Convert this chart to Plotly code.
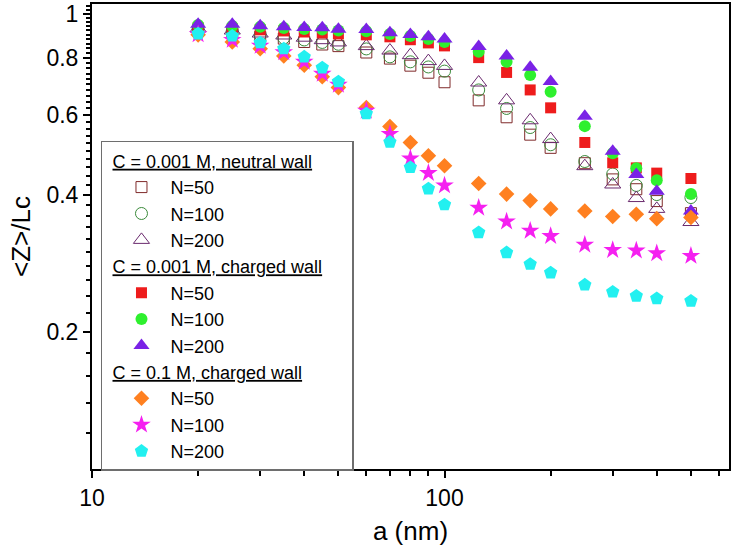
import plotly.graph_objects as go

# ---- data ----
a_nm = [20, 25, 30, 35, 40, 45, 50, 60, 70, 80, 90, 100, 125, 150, 175, 200, 250, 300, 350, 400, 500]

neutral_n50 = [0.923, 0.909, 0.891, 0.883, 0.868, 0.857, 0.850, 0.823, 0.798, 0.770, 0.743, 0.708,
               0.646, 0.593, 0.543, 0.508, 0.470, 0.433, 0.412, 0.388, 0.365]
neutral_n100 = [0.927, 0.918, 0.900, 0.886, 0.877, 0.866, 0.858, 0.838, 0.805, 0.785, 0.765, 0.749,
                0.681, 0.620, 0.563, 0.516, 0.474, 0.445, 0.420, 0.401, 0.395]
neutral_n200 = [0.930, 0.920, 0.906, 0.897, 0.887, 0.876, 0.866, 0.850, 0.831, 0.812, 0.788, 0.769,
                0.707, 0.646, 0.584, 0.531, 0.463, 0.422, 0.394, 0.373, 0.349]

charged_n50 = [0.932, 0.927, 0.923, 0.918, 0.913, 0.909, 0.904, 0.900, 0.891, 0.878, 0.864, 0.851,
               0.802, 0.744, 0.681, 0.622, 0.522, 0.471, 0.459, 0.447, 0.435]
charged_n100 = [0.946, 0.941, 0.937, 0.932, 0.927, 0.925, 0.920, 0.916, 0.904, 0.895, 0.881, 0.868,
                0.826, 0.785, 0.734, 0.675, 0.567, 0.494, 0.458, 0.431, 0.402]
charged_n200 = [0.950, 0.949, 0.942, 0.937, 0.934, 0.933, 0.926, 0.925, 0.910, 0.902, 0.891, 0.881,
                0.848, 0.809, 0.764, 0.711, 0.596, 0.499, 0.444, 0.408, 0.369]

salt_n50 = [0.900, 0.868, 0.839, 0.809, 0.772, 0.728, 0.689, 0.623, 0.566, 0.522, 0.488, 0.464,
            0.424, 0.402, 0.389, 0.373, 0.369, 0.359, 0.363, 0.355, 0.357]
salt_n100 = [0.902, 0.877, 0.851, 0.824, 0.785, 0.739, 0.699, 0.613, 0.545, 0.481, 0.447, 0.420,
             0.375, 0.350, 0.334, 0.325, 0.311, 0.303, 0.302, 0.298, 0.294]
salt_n200 = [0.905, 0.895, 0.865, 0.839, 0.805, 0.762, 0.710, 0.604, 0.523, 0.460, 0.413, 0.381,
             0.331, 0.299, 0.282, 0.270, 0.254, 0.245, 0.240, 0.237, 0.234]

group_titles = ["C = 0.001 M, neutral wall", "C = 0.001 M, charged wall", "C = 0.1 M, charged wall"]
series_names = ["N=50", "N=100", "N=200"]

x_tick_vals = [10, 100]
x_tick_text = ["10", "100"]
x_minor_vals = [20, 30, 40, 50, 60, 70, 80, 90, 200, 300, 400, 500, 600]
y_tick_vals = [0.2, 0.4, 0.6, 0.8, 1.0]
y_tick_text = ["0.2", "0.4", "0.6", "0.8", "1"]
y_minor_vals = [0.12, 0.14, 0.16, 0.18, 0.22, 0.24, 0.26, 0.28, 0.30, 0.32, 0.34, 0.36, 0.38,
                0.42, 0.44, 0.46, 0.48, 0.50, 0.52, 0.54, 0.56, 0.58, 0.62, 0.64, 0.66, 0.68,
                0.70, 0.72, 0.74, 0.76, 0.78, 0.82, 0.84, 0.86, 0.88, 0.90, 0.92, 0.94, 0.96,
                0.98, 1.02, 1.04]

FONT = "Arial, Liberation Sans, sans-serif"

styles = [
    # neutral wall (open symbols)
    dict(symbol="square-open", size=11, color="#7f2a2a", line=dict(width=1, color="#7f2a2a")),
    dict(symbol="circle-open", size=12, color="#3a8a3a", line=dict(width=1, color="#3a8a3a")),
    dict(symbol="triangle-up-open", size=14, color="#6a2a6e", line=dict(width=1, color="#6a2a6e")),
    # charged wall 0.001 M
    dict(symbol="square", size=11, color="#ee1c1c", line=dict(width=0)),
    dict(symbol="circle", size=12, color="#2ef02e", line=dict(width=0)),
    dict(symbol="triangle-up", size=14, color="#7a22e6", line=dict(width=0)),
    # charged wall 0.1 M
    dict(symbol="diamond", size=12, color="#ff8020", line=dict(width=0)),
    dict(symbol="star", size=14, color="#f520f0", line=dict(width=0)),
    dict(symbol="pentagon", size=14, color="#22f0f0", line=dict(width=0)),
]

all_series = [neutral_n50, neutral_n100, neutral_n200,
              charged_n50, charged_n100, charged_n200,
              salt_n50, salt_n100, salt_n200]

fig = go.Figure()
for i, ys in enumerate(all_series):
    g = i // 3
    tr = dict(
        x=a_nm, y=ys, mode="markers", name=series_names[i % 3],
        marker=styles[i], legendgroup="g%d" % g,
    )
    if i % 3 == 0:
        tr["legendgrouptitle"] = dict(
            text="\u00a0<u>" + group_titles[g] + "</u>\u00a0\u00a0\u00a0\u00a0",
            font=dict(family=FONT, size=18, color="black"))
    fig.add_trace(go.Scatter(**tr))

x_range = [1.0, 2.807]
y_range = [-1.0, 0.022]

fig.update_layout(
    width=733, height=559,
    margin=dict(l=92, r=4, t=4, b=90, autoexpand=False),
    paper_bgcolor="white", plot_bgcolor="white",
    font=dict(family=FONT, size=22, color="black"),
    showlegend=True,
    legend=dict(
        x=0.0141, y=0.7054, xanchor="left", yanchor="top",
        bgcolor="white", bordercolor="#6e6e6e", borderwidth=1.5,
        font=dict(family=FONT, size=18, color="black"),
        traceorder="grouped", tracegroupgap=0,
        itemwidth=48, indentation=10,
    ),
    xaxis=dict(
        type="log", range=x_range, automargin=False,
        tickmode="array", tickvals=x_tick_vals, ticktext=x_tick_text,
        ticks="outside", ticklen=7, tickwidth=1.5, tickcolor="black",
        minor=dict(tickmode="array", tickvals=x_minor_vals, ticks="outside",
                   ticklen=5, tickwidth=1.5, tickcolor="black"),
        showline=True, linewidth=2, linecolor="black", mirror=True,
        showgrid=False, zeroline=False, ticklabeloverflow="allow",
        tickfont=dict(family=FONT, size=23),
        title=dict(text="a (nm)", font=dict(family=FONT, size=26), standoff=12),
    ),
    yaxis=dict(
        type="log", range=y_range, automargin=False,
        tickmode="array", tickvals=y_tick_vals, ticktext=y_tick_text,
        ticks="outside", ticklen=7, tickwidth=1.5, tickcolor="black",
        minor=dict(tickmode="array", tickvals=y_minor_vals, ticks="outside",
                   ticklen=4, tickwidth=1.5, tickcolor="black"),
        showline=True, linewidth=2, linecolor="black", mirror=True,
        showgrid=False, zeroline=False, ticklabeloverflow="allow",
        tickfont=dict(family=FONT, size=23),
        title=dict(text="&lt;Z&gt;/Lc", font=dict(family=FONT, size=26), standoff=8),
    ),
    xaxis2=dict(
        type="log", range=x_range, overlaying="x", side="top", anchor="y",
        automargin=False,
        tickmode="array", tickvals=x_tick_vals, ticks="inside", ticklen=7,
        tickwidth=1.5, tickcolor="black", showticklabels=False,
        minor=dict(tickmode="array", tickvals=x_minor_vals, ticks="inside",
                   ticklen=5, tickwidth=1.5, tickcolor="black"),
        showline=False, showgrid=False, zeroline=False,
    ),
    yaxis2=dict(
        type="log", range=y_range, overlaying="y", side="right", anchor="x",
        automargin=False,
        tickmode="array", tickvals=y_tick_vals, ticks="inside", ticklen=7,
        tickwidth=1.5, tickcolor="black", showticklabels=False,
        minor=dict(tickmode="array", tickvals=y_minor_vals, ticks="inside",
                   ticklen=4, tickwidth=1.5, tickcolor="black"),
        showline=False, showgrid=False, zeroline=False,
    ),
)

# remove the browser's default 8 px body margin so the figure fills the window
fig.write_html("out.html",
               config={"displayModeBar": False},
               post_script="document.body.style.margin='0';document.body.style.overflow='hidden';")
